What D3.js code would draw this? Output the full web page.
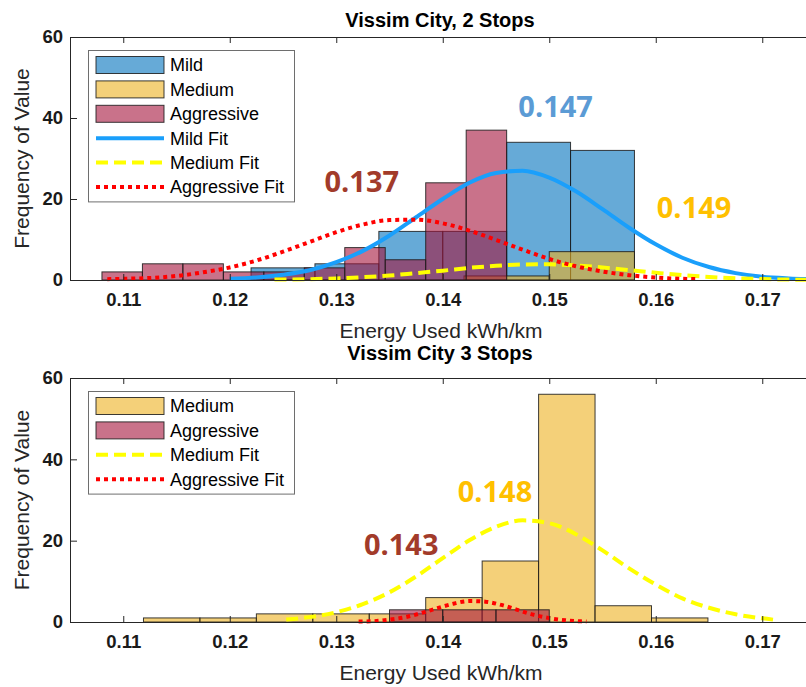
<!DOCTYPE html>
<html>
<head>
<meta charset="utf-8">
<script src="https://cdn.jsdelivr.net/npm/d3@7"></script>
<style>
  body { margin: 0; background: #fff; }
  svg { display: block; }
</style>
</head>
<body>
<svg id="chart" width="806" height="687"></svg>
<script>
// axis ticks shared by both panels
const xTicks = [0.11, 0.12, 0.13, 0.14, 0.15, 0.16, 0.17];
const yTicks = [0, 20, 40, 60];

// --- panel 1: Vissim City, 2 Stops ---
const mild2Edges = [0.122, 0.128, 0.134, 0.140, 0.146, 0.152, 0.158];
const mild2Counts = [3, 4, 12, 12, 34, 32];
const medium2Edges = [0.142, 0.150, 0.158];
const medium2Counts = [1, 7];
const aggr2Edges = [0.1080, 0.1118, 0.1156, 0.1194, 0.1232, 0.1270, 0.1308, 0.1346, 0.1384, 0.1422, 0.1460];
const aggr2Counts = [2, 4, 4, 2, 2, 3, 8, 5, 24, 37];

// fit curves
const mildFit2X = [0.120, 0.1225, 0.125, 0.1275, 0.130, 0.1325, 0.135, 0.1375, 0.140, 0.1425, 0.145, 0.1475,
                   0.150, 0.1525, 0.155, 0.1575, 0.160, 0.1625, 0.165, 0.1675, 0.170, 0.1725, 0.175];
const mildFit2Y = [0.3, 0.6, 1.3, 2.4, 4.4, 7.2, 11.0, 15.5, 20.0, 24.0, 26.4, 27.0,
                   25.3, 21.9, 17.5, 12.9, 8.8, 5.5, 3.2, 1.7, 0.8, 0.4, 0.2];
const mediumFit2X = [0.1242, 0.1275, 0.130, 0.1325, 0.135, 0.1375, 0.140, 0.1425, 0.145, 0.1475, 0.150,
                     0.1525, 0.155, 0.1575, 0.160, 0.1625, 0.165, 0.1675, 0.170, 0.1725, 0.175];
const mediumFit2Y = [0.1, 0.2, 0.4, 0.7, 1.1, 1.7, 2.3, 3.0, 3.5, 3.85, 3.87,
                     3.6, 3.1, 2.45, 1.8, 1.2, 0.75, 0.43, 0.23, 0.11, 0.05];
const aggrFit2X = [0.1085, 0.110, 0.1125, 0.115, 0.1175, 0.120, 0.1225, 0.125, 0.1275, 0.130, 0.1325, 0.135,
                   0.1375, 0.140, 0.1425, 0.145, 0.1475, 0.150, 0.1525, 0.155, 0.1575, 0.160, 0.1625, 0.164];
const aggrFit2Y = [0.2, 0.3, 0.5, 1.0, 1.9, 3.1, 4.8, 7.0, 9.4, 11.8, 13.7, 14.8,
                   14.9, 14.0, 12.2, 9.9, 7.5, 5.2, 3.4, 2.1, 1.2, 0.6, 0.3, 0.2];

// --- panel 2: Vissim City 3 Stops ---
const medium3Edges = [0.1119, 0.1172, 0.1225, 0.1278, 0.1331, 0.1384, 0.1437, 0.1490, 0.1543, 0.1596, 0.1649];
const medium3Counts = [1, 1, 2, 2, 2, 6, 15, 56, 4, 1];
const aggr3Edges = [0.135, 0.140, 0.145, 0.150];
const aggr3Counts = [3, 3, 3];

const mediumFit3X = [0.1253, 0.1275, 0.130, 0.1325, 0.135, 0.1375, 0.140, 0.1425, 0.145, 0.1475, 0.150,
                     0.1525, 0.155, 0.1575, 0.160, 0.1625, 0.165, 0.1675, 0.170, 0.1713];
const mediumFit3Y = [0.6, 1.2, 2.4, 4.4, 7.3, 11.2, 15.7, 20.1, 23.4, 25.0, 24.3,
                     21.6, 17.6, 13.2, 9.2, 5.8, 3.5, 1.9, 0.9, 0.5];
const aggrFit3X = [0.1321, 0.1335, 0.135, 0.1365, 0.138, 0.1395, 0.141, 0.1425, 0.144, 0.1455,
                   0.147, 0.1485, 0.150, 0.1515, 0.153, 0.1535];
const aggrFit3Y = [0.1, 0.2, 0.6, 1.2, 2.2, 3.4, 4.5, 5.15, 5.0, 4.2,
                   3.0, 1.8, 0.95, 0.43, 0.16, 0.1];

// colours
const mildColor = "rgb(0,114,189)";
const mediumColor = "rgb(237,177,32)";
const aggrColor = "rgb(165,20,60)";
const mildFitColor = "#1a9ffb";
const mediumFitColor = "#ffff00";
const aggrFitColor = "#ff0000";
const axisColor = "#262626";

const svg = d3.select("#chart");
const FONT = "'Liberation Sans', Arial, sans-serif";

const x = d3.scaleLinear().domain([0.105, 0.175]).range([70, 815.5]);

function drawPanel(p) {
    const y = d3.scaleLinear().domain([0, 60]).range([p.bottom, p.top]);
    const g = svg.append("g");

    // histograms
    p.hists.forEach(h => {
        const bins = h.counts.map((c, i) => ({ x0: h.edges[i], x1: h.edges[i + 1], n: c }))
            .filter(b => b.n > 0);
        g.selectAll(null)
            .data(bins)
            .enter()
            .append("rect")
            .attr("x", d => x(d.x0))
            .attr("y", d => y(d.n))
            .attr("width", d => x(d.x1) - x(d.x0))
            .attr("height", d => y(0) - y(d.n))
            .attr("fill", h.color)
            .attr("fill-opacity", 0.6)
            .attr("stroke", "#1a1a1a")
            .attr("stroke-opacity", 0.85)
            .attr("stroke-width", 1);
    });

    // fitted curves
    const line = d3.line()
        .x(d => x(d[0]))
        .y(d => y(d[1]))
        .curve(d3.curveMonotoneX);

    p.fits.forEach(f => {
        g.append("path")
            .datum(f.xs.map((v, i) => [v, f.ys[i]]))
            .attr("fill", "none")
            .attr("stroke", f.color)
            .attr("stroke-width", 4)
            .attr("stroke-dasharray", f.dash)
            .attr("d", line);
    });

    // axes (ticks inside, MATLAB style)
    const xAxis = g.append("g")
        .attr("transform", `translate(0,${p.bottom})`)
        .call(d3.axisBottom(x).tickValues(xTicks).tickSize(-6).tickSizeOuter(0)
            .tickPadding(13).tickFormat(d3.format(".2f")));
    const xTop = g.append("g")
        .attr("transform", `translate(0,${p.top})`)
        .call(d3.axisTop(x).tickValues(xTicks).tickSize(-6).tickSizeOuter(0).tickFormat(""));
    const yAxis = g.append("g")
        .attr("transform", "translate(70,0)")
        .call(d3.axisLeft(y).tickValues(yTicks).tickSize(-7).tickSizeOuter(0).tickPadding(7));

    [xAxis, xTop, yAxis].forEach(a => {
        a.select(".domain").attr("stroke", axisColor);
        a.selectAll(".tick line").attr("stroke", axisColor);
        a.selectAll("text")
            .style("font-family", FONT)
            .style("font-size", "18.5px")
            .style("font-weight", "bold")
            .attr("fill", "#1a1a1a");
    });

    // title
    g.append("text")
        .attr("x", p.titleX)
        .attr("y", p.titleY)
        .attr("text-anchor", "middle")
        .style("font-family", FONT)
        .style("font-size", "20px")
        .style("font-weight", "bold")
        .attr("fill", "#000")
        .text(p.title);

    // axis labels
    g.append("text")
        .attr("x", 441)
        .attr("y", p.bottom + 58)
        .attr("text-anchor", "middle")
        .style("font-family", FONT)
        .style("font-size", "21px")
        .attr("fill", "#262626")
        .text("Energy Used kWh/km");

    g.append("text")
        .attr("transform", `translate(29,${(p.top + p.bottom) / 2}) rotate(-90)`)
        .attr("text-anchor", "middle")
        .style("font-family", FONT)
        .style("font-size", "21px")
        .attr("fill", "#262626")
        .text("Frequency of Value");

    // mean labels
    p.means.forEach(m => {
        g.append("text")
            .attr("x", x(m.at))
            .attr("y", y(m.level))
            .attr("text-anchor", "middle")
            .attr("dy", "0.35em")
            .style("font-family", "'Open Sans', 'Noto Sans', sans-serif")
            .style("font-size", "29px")
            .style("font-weight", "bold")
            .attr("fill", m.color)
            .text(m.text);
    });

    // legend
    const lg = g.append("g").attr("transform", `translate(88,${p.legendTop})`);
    const rows = p.legend.length;
    lg.append("rect")
        .attr("x", 0.5).attr("y", 0.5)
        .attr("width", 206).attr("height", rows * 24.4 + 5)
        .attr("fill", "#fff")
        .attr("stroke", "#6e6e6e");
    p.legend.forEach((item, i) => {
        const cy = 15 + i * 24.4;
        if (item.type === "patch") {
            lg.append("rect")
                .attr("x", 8).attr("y", cy - 8.5)
                .attr("width", 68).attr("height", 17)
                .attr("fill", item.color)
                .attr("fill-opacity", 0.6)
                .attr("stroke", "#1a1a1a")
                .attr("stroke-opacity", 0.85);
        } else {
            lg.append("line")
                .attr("x1", 8).attr("x2", 76)
                .attr("y1", cy).attr("y2", cy)
                .attr("stroke", item.color)
                .attr("stroke-width", 4)
                .attr("stroke-dasharray", item.dash);
        }
        lg.append("text")
            .attr("x", 82)
            .attr("y", cy)
            .attr("dy", "0.35em")
            .style("font-family", FONT)
            .style("font-size", "18px")
            .attr("fill", "#000")
            .text(item.label);
    });
}

drawPanel({
    top: 37, bottom: 280,
    title: "Vissim City, 2 Stops", titleX: 440, titleY: 27,
    legendTop: 50,
    hists: [
        { edges: mild2Edges, counts: mild2Counts, color: mildColor },
        { edges: medium2Edges, counts: medium2Counts, color: mediumColor },
        { edges: aggr2Edges, counts: aggr2Counts, color: aggrColor }
    ],
    fits: [
        { xs: mildFit2X, ys: mildFit2Y, color: mildFitColor, dash: null },
        { xs: mediumFit2X, ys: mediumFit2Y, color: mediumFitColor, dash: "12,6" },
        { xs: aggrFit2X, ys: aggrFit2Y, color: aggrFitColor, dash: "4,4" }
    ],
    means: [
        { text: "0.147", at: 0.1506, level: 42.7, color: "#5b9bd5" },
        { text: "0.137", at: 0.1324, level: 24.2, color: "#a23b2a" },
        { text: "0.149", at: 0.1636, level: 17.8, color: "#ffc000" }
    ],
    legend: [
        { type: "patch", label: "Mild", color: mildColor },
        { type: "patch", label: "Medium", color: mediumColor },
        { type: "patch", label: "Aggressive", color: aggrColor },
        { type: "line", label: "Mild Fit", color: mildFitColor, dash: null },
        { type: "line", label: "Medium Fit", color: mediumFitColor, dash: "12,6" },
        { type: "line", label: "Aggressive Fit", color: aggrFitColor, dash: "4,4" }
    ]
});

drawPanel({
    top: 378, bottom: 622,
    title: "Vissim City 3 Stops", titleX: 440, titleY: 360,
    legendTop: 391,
    hists: [
        { edges: medium3Edges, counts: medium3Counts, color: mediumColor },
        { edges: aggr3Edges, counts: aggr3Counts, color: aggrColor }
    ],
    fits: [
        { xs: mediumFit3X, ys: mediumFit3Y, color: mediumFitColor, dash: "12,6" },
        { xs: aggrFit3X, ys: aggrFit3Y, color: aggrFitColor, dash: "4,4" }
    ],
    means: [
        { text: "0.148", at: 0.1449, level: 32.0, color: "#ffc000" },
        { text: "0.143", at: 0.1361, level: 18.9, color: "#a23b2a" }
    ],
    legend: [
        { type: "patch", label: "Medium", color: mediumColor },
        { type: "patch", label: "Aggressive", color: aggrColor },
        { type: "line", label: "Medium Fit", color: mediumFitColor, dash: "12,6" },
        { type: "line", label: "Aggressive Fit", color: aggrFitColor, dash: "4,4" }
    ]
});
</script>
</body>
</html>
